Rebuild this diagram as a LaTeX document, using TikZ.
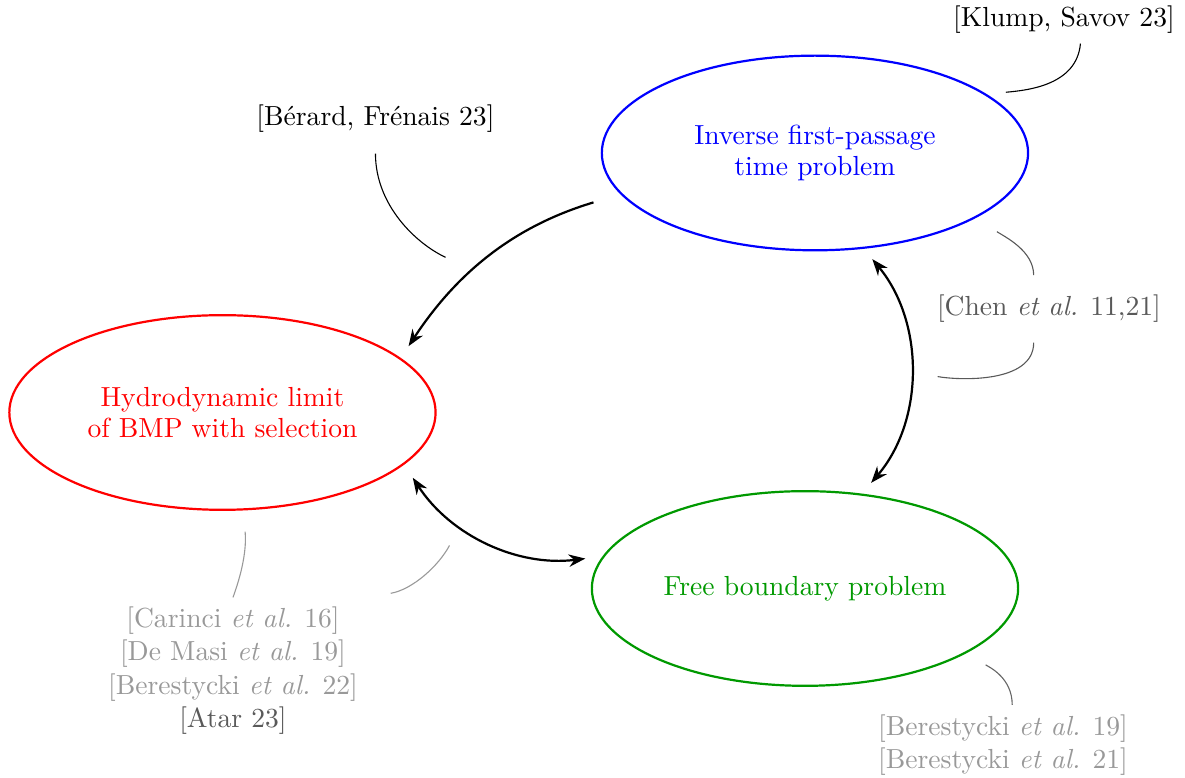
\documentclass[tikz,border=0pt]{standalone}
\usepackage{amsmath}
\usepackage{tikz}
\usetikzlibrary{arrows.meta,shapes,calc}

\begin{document}
\begin{tikzpicture}[
  topic/.style={draw,shape=ellipse,thick,minimum width=5.43cm,minimum height=2.48cm,inner sep=0pt,align=center,font=\fontsize{10}{11}\selectfont},
  cite/.style={align=center},
  arr/.style={thick,-{Stealth[length=6pt,width=4.5pt]}},
  darr/.style={thick,{Stealth[length=6pt,width=4.5pt]}-{Stealth[length=6pt,width=4.5pt]}},
  link/.style={thin}
]
  \useasboundingbox (0,0) rectangle (15.096,9.911);
  % Define the three problems
  \path (10.382,7.962) node[topic,draw=blue,text=blue] (ifpt) {Inverse first-passage\\time problem};
  \path (2.834,4.656) node[topic,draw=red,text=red] (hydro) {Hydrodynamic limit\\of BMP with selection};
  \path (10.255,2.414) node[topic,draw=green!60!black,text=green!60!black] (fbp) {Free boundary problem};
  % Define the references
  \path (13.554,9.656) node[cite] (klump) {[Klump, Savov 23]};
  \path (4.783,8.395) node[cite] (berard) {[B\'erard, Fr\'enais 23]};
  \path (13.363,5.975) node[cite,text=black!65] (chen) {[Chen \textit{et al.} 11,21]};
  \path (2.968,1.368) node[cite,text=black!40] (carinci) {[Carinci \textit{et al.} 16]\\{[}De Masi \textit{et al.} 19]\\{[}Berestycki \textit{et al.} 22]\\\textcolor{black!65}{[Atar 23]}};
  \path (12.777,0.42) node[cite,text=black!40] (beres) {[Berestycki \textit{et al.} 19]\\{[}Berestycki \textit{et al.} 21]};
  % Draw the links between the problems
  \draw[arr,shorten <=0.36cm,shorten >=0.18cm] (ifpt.192) to[bend right=20] coordinate[pos=0.6] (ifpt-hydro) (hydro.17);
  \draw[darr,shorten <=0.17cm,shorten >=0.18cm] (ifpt.-63) to[bend left=40] coordinate[pos=0.5] (ifpt-fbp) (fbp.59);
  \draw[darr,shorten <=0.2cm,shorten >=0.22cm] (hydro.-16) to[bend right=32] coordinate[pos=0.35] (hydro-fbp) (fbp.171);
  % Draw the links to the references
  \draw[link,shorten >=0.25cm] (klump.-55) to[out=-95,in=5] (ifpt.19);
  \draw[link,shorten <=0.14cm,shorten >=0.4cm] (berard.south) to[out=-90,in=155] (ifpt-hydro);
  \draw[link,black!65,shorten <=0.13cm,shorten >=0.32cm] (chen.123) to[out=90,in=-33] (ifpt.-22);
  \draw[link,black!65,shorten <=0.13cm,shorten >=0.37cm] (chen.-123) to[out=-90,in=-10] (ifpt-fbp);
  \draw[link,black!40,shorten >=0.27cm] (carinci.north) to[out=70,in=-85] (hydro.-78);
  \draw[link,black!40,shorten <=0.3cm,shorten >=0.3cm] (carinci.north east) to[out=10,in=-118] (hydro-fbp);
  \draw[link,black!60,shorten >=0.29cm] (beres.77) to[out=90,in=-30] (fbp.-22);
\end{tikzpicture}
\end{document}
